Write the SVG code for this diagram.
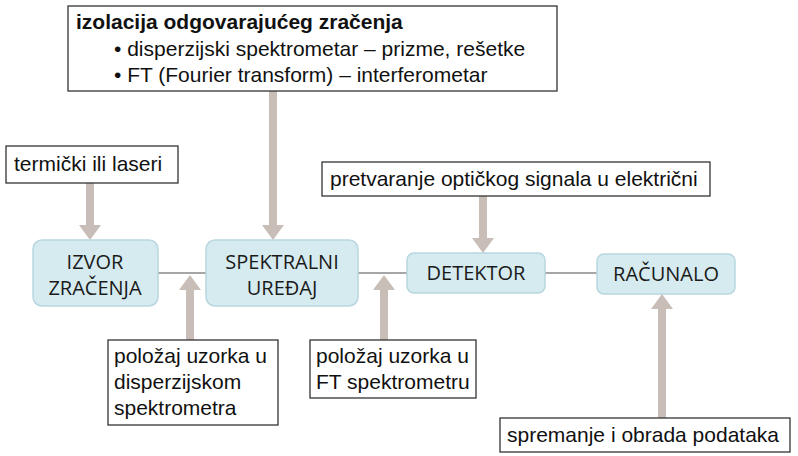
<svg xmlns="http://www.w3.org/2000/svg" width="798" height="456" viewBox="0 0 798 456">
<style>
.t{font-family:"Liberation Sans",Arial,sans-serif;font-size:21px;fill:#111}
.n{font-family:"Open Sans","DejaVu Sans",sans-serif;font-size:20px;fill:#1a1a1a;text-anchor:middle}
.b{fill:#fff;stroke:#333;stroke-width:1.3}
.p{fill:#d6ebf0;stroke:#b8d6de;stroke-width:1.5}
.a{fill:#c9bdb8}
.l{stroke:#888;stroke-width:1.5}
</style>
<rect width="798" height="456" fill="#fff"/>
<g id="connectors">
<line class="l" x1="158" y1="273" x2="206" y2="273"/>
<line class="l" x1="358" y1="273" x2="407" y2="273"/>
<line class="l" x1="545" y1="273" x2="597" y2="273"/>
<path class="a" d="M86 183h8v42h7l-11 15l-11-15h7z"/>
<path class="a" d="M269 91h8v134h7l-11 15l-11-15h7z"/>
<path class="a" d="M479 195h8v43h7l-11 15l-11-15h7z"/>
<path class="a" d="M186 340h8v-50h7l-11-15l-11 15h7z"/>
<path class="a" d="M380 340h8v-50h7l-11-15l-11 15h7z"/>
<path class="a" d="M658 418h8v-109h7l-11-15l-11 15h7z"/>
</g>
<g id="top"><rect class="b" x="68" y="6" width="489" height="85"/>
<text class="t" x="76" y="29" font-weight="bold" font-size="20.5">izolacija odgovarajućeg zračenja</text>
<text class="t" x="114" y="56">• disperzijski spektrometar – prizme, rešetke</text>
<text class="t" x="114" y="82">• FT (Fourier transform) – interferometar</text></g>
<g id="termicki"><rect class="b" x="6" y="146" width="172" height="37"/><text class="t" x="14" y="171" font-size="18">termički ili laseri</text></g>
<g id="pretvaranje"><rect class="b" x="322" y="162" width="388" height="34"/><text class="t" x="330" y="186">pretvaranje optičkog signala u električni</text></g>
<g id="izvor"><rect class="p" x="33" y="240" width="125" height="66" rx="9"/><text class="n" x="95" y="269">IZVOR</text><text class="n" x="95" y="295">ZRAČENJA</text></g>
<g id="spektralni"><rect class="p" x="206" y="240" width="152" height="66" rx="9"/><text class="n" x="282" y="269">SPEKTRALNI</text><text class="n" x="282" y="295">UREĐAJ</text></g>
<g id="detektor"><rect class="p" x="407" y="253" width="138" height="40" rx="7"/><text class="n" x="476" y="280">DETEKTOR</text></g>
<g id="racunalo"><rect class="p" x="597" y="254" width="138" height="40" rx="7"/><text class="n" x="666" y="281">RAČUNALO</text></g>
<g id="polozaj1"><rect class="b" x="108" y="340" width="170" height="85"/>
<text class="t" x="114" y="363">položaj uzorka u</text><text class="t" x="114" y="389">disperzijskom</text><text class="t" x="114" y="415">spektrometra</text></g>
<g id="polozaj2"><rect class="b" x="310" y="340" width="166" height="58"/>
<text class="t" x="316" y="363">položaj uzorka u</text><text class="t" x="316" y="389">FT spektrometru</text></g>
<g id="spremanje"><rect class="b" x="500" y="418" width="290" height="34"/><text class="t" x="507" y="442">spremanje i obrada podataka</text></g>
</svg>
